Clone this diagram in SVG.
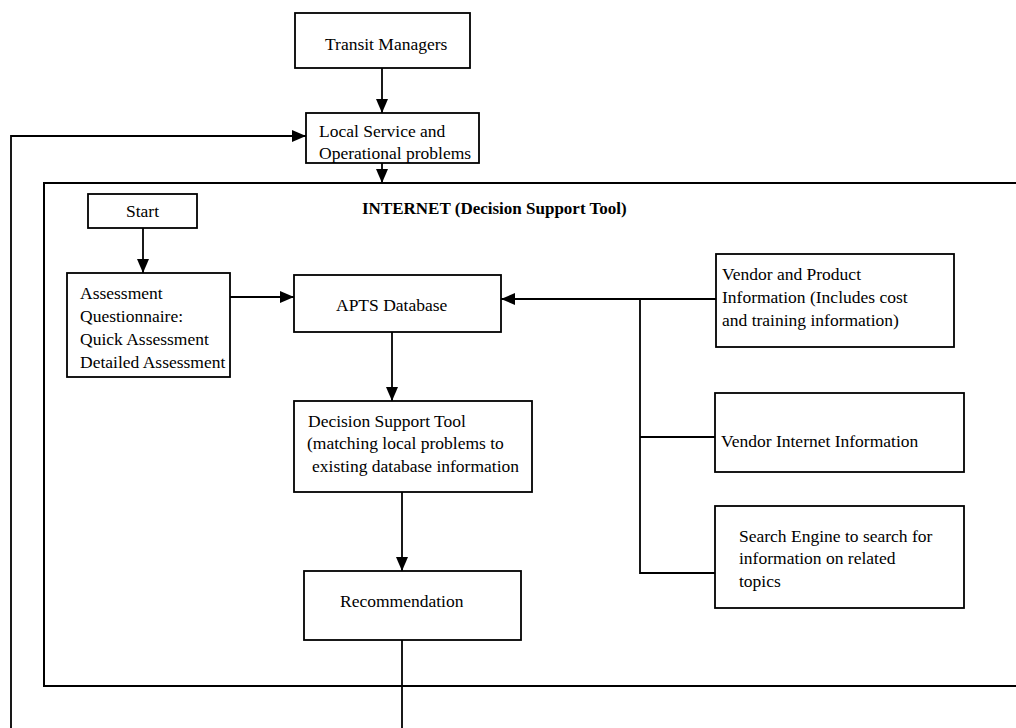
<svg xmlns="http://www.w3.org/2000/svg" width="1016" height="728" viewBox="0 0 1016 728">
  <style>
    .box { fill: #ffffff; stroke: #000000; stroke-width: 1.8; }
    .frame { fill: none; stroke: #000000; stroke-width: 2; }
    .wire { fill: none; stroke: #000000; stroke-width: 1.8; }
    .lbl { font-family: "Liberation Serif", "Times New Roman", serif; font-size: 17.5px; fill: #000000; }
    .title { font-family: "Liberation Serif", "Times New Roman", serif; font-size: 17px; font-weight: bold; fill: #000000; }
  </style>
  <defs>
    <marker id="arrow" markerUnits="userSpaceOnUse" markerWidth="14" markerHeight="14" viewBox="0 0 14 14" refX="14" refY="7" orient="auto">
      <path d="M0,1 L14,7 L0,13 Z" fill="#000000"/>
    </marker>
  </defs>
  <rect width="1016" height="728" fill="#ffffff"/>

  <!-- INTERNET boundary (open to the right edge) -->
  <g id="internet-frame">
    <path class="frame" d="M1020,183 H44 V686 H1020"/>
    <text class="title" x="362" y="214">INTERNET (Decision Support Tool)</text>
  </g>

  <!-- connectors -->
  <g id="connectors">
    <line class="wire" x1="382" y1="68" x2="382" y2="113" marker-end="url(#arrow)"/>
    <line class="wire" x1="382" y1="163" x2="382" y2="183" marker-end="url(#arrow)"/>
    <polyline class="wire" points="11,728 11,136 306,136" marker-end="url(#arrow)"/>
    <line class="wire" x1="143" y1="228" x2="143" y2="273" marker-end="url(#arrow)"/>
    <line class="wire" x1="230" y1="297" x2="294" y2="297" marker-end="url(#arrow)"/>
    <line class="wire" x1="716" y1="299" x2="501" y2="299" marker-end="url(#arrow)"/>
    <polyline class="wire" points="640,299 640,573 715,573"/>
    <line class="wire" x1="640" y1="437" x2="715" y2="437"/>
    <line class="wire" x1="392" y1="332" x2="392" y2="401" marker-end="url(#arrow)"/>
    <line class="wire" x1="402" y1="492" x2="402" y2="571" marker-end="url(#arrow)"/>
    <line class="wire" x1="402" y1="640" x2="402" y2="728"/>
  </g>

  <g id="transit-managers">
    <rect class="box" x="295" y="13" width="175" height="55"/>
    <text class="lbl" x="325" y="50">Transit Managers</text>
  </g>

  <g id="local-problems">
    <rect class="box" x="306" y="113" width="173" height="50"/>
    <text class="lbl" x="319" y="137">Local Service and</text>
    <text class="lbl" x="319" y="159">Operational problems</text>
  </g>

  <g id="start">
    <rect class="box" x="88" y="194" width="109" height="34"/>
    <text class="lbl" x="126" y="217">Start</text>
  </g>

  <g id="assessment">
    <rect class="box" x="67" y="273" width="163" height="104"/>
    <text class="lbl" x="80" y="299">Assessment</text>
    <text class="lbl" x="80" y="322">Questionnaire:</text>
    <text class="lbl" x="80" y="345">Quick Assessment</text>
    <text class="lbl" x="80" y="368">Detailed Assessment</text>
  </g>

  <g id="apts-database">
    <rect class="box" x="294" y="275" width="207" height="57"/>
    <text class="lbl" x="336" y="311">APTS Database</text>
  </g>

  <g id="decision-support">
    <rect class="box" x="294" y="401" width="238" height="91"/>
    <text class="lbl" x="308" y="427">Decision Support Tool</text>
    <text class="lbl" x="307" y="449">(matching local problems to</text>
    <text class="lbl" x="312" y="472">existing database information</text>
  </g>

  <g id="recommendation">
    <rect class="box" x="304" y="571" width="217" height="69"/>
    <text class="lbl" x="340" y="607">Recommendation</text>
  </g>

  <g id="vendor-product">
    <rect class="box" x="716" y="254" width="238" height="93"/>
    <text class="lbl" x="722" y="280">Vendor and Product</text>
    <text class="lbl" x="722" y="303">Information (Includes cost</text>
    <text class="lbl" x="722" y="326">and training information)</text>
  </g>

  <g id="vendor-internet">
    <rect class="box" x="715" y="393" width="249" height="79"/>
    <text class="lbl" x="721" y="447">Vendor Internet Information</text>
  </g>

  <g id="search-engine">
    <rect class="box" x="715" y="506" width="249" height="102"/>
    <text class="lbl" x="739" y="542">Search Engine to search for</text>
    <text class="lbl" x="739" y="564">information on related</text>
    <text class="lbl" x="739" y="587">topics</text>
  </g>
</svg>
